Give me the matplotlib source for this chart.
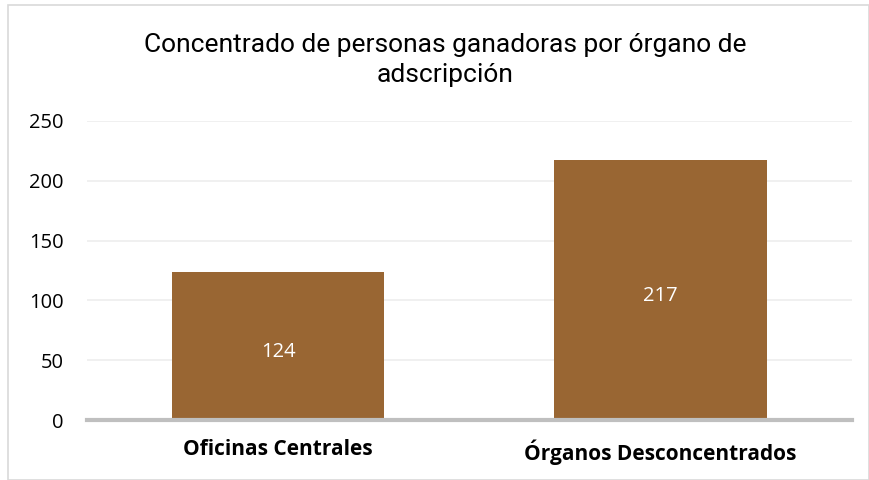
import matplotlib
matplotlib.use("Agg")
import matplotlib.pyplot as plt
from matplotlib.patches import Rectangle

categories = ["Oficinas Centrales", "Órganos Desconcentrados"]
values = [124, 217]
yticks = [0, 50, 100, 150, 200, 250]
title = "Concentrado de personas ganadoras por órgano de\nadscripción"

bar_color = "#996633"
sans = ["Open Sans", "DejaVu Sans"]

fig = plt.figure(figsize=(8.7, 4.8), dpi=100)
ax = fig.add_axes([0.1, 0.125, 0.879, 0.623])

# light frame around the chart area
fig.patches.append(Rectangle((8 / 870, 0), 1 - 8 / 870 - 1 / 870, 1 - 5 / 480,
                             transform=fig.transFigure, fill=False,
                             edgecolor="#d9d9d9", linewidth=1.2))

x = range(len(categories))
bars = ax.bar(x, values, width=0.555, color=bar_color, zorder=2)

for b, v in zip(bars, values):
    ax.annotate(str(v), (b.get_x() + b.get_width() / 2, v / 2), xytext=(0, -4.5),
                textcoords="offset points", ha="center", va="center",
                color="white", fontsize=14.5, family=sans)

ax.set_xlim(-0.5, 1.5)
ax.set_ylim(0, 250)
ax.set_yticks(yticks)
ax.set_yticklabels([str(t) for t in yticks], fontsize=14.5, family=sans)
ax.set_xticks(list(x))
ax.set_xticklabels(categories, fontsize=15, fontweight="bold", family=sans)
ax.tick_params(axis="both", length=0)
ax.tick_params(axis="x", pad=14)
ax.tick_params(axis="y", pad=17)

ax.grid(axis="y", color="#eeeeee", linewidth=1.2, zorder=0)
for s in ["top", "right", "left"]:
    ax.spines[s].set_visible(False)
ax.spines["bottom"].set_color("#bfbfbf")
ax.spines["bottom"].set_linewidth(3)
ax.spines["bottom"].set_zorder(3)

fig.text(0.512, 0.875, title, ha="center", va="center", fontsize=19,
         family=["Roboto", "DejaVu Sans"], linespacing=1.32)

fig.savefig("out.png", dpi=100)
